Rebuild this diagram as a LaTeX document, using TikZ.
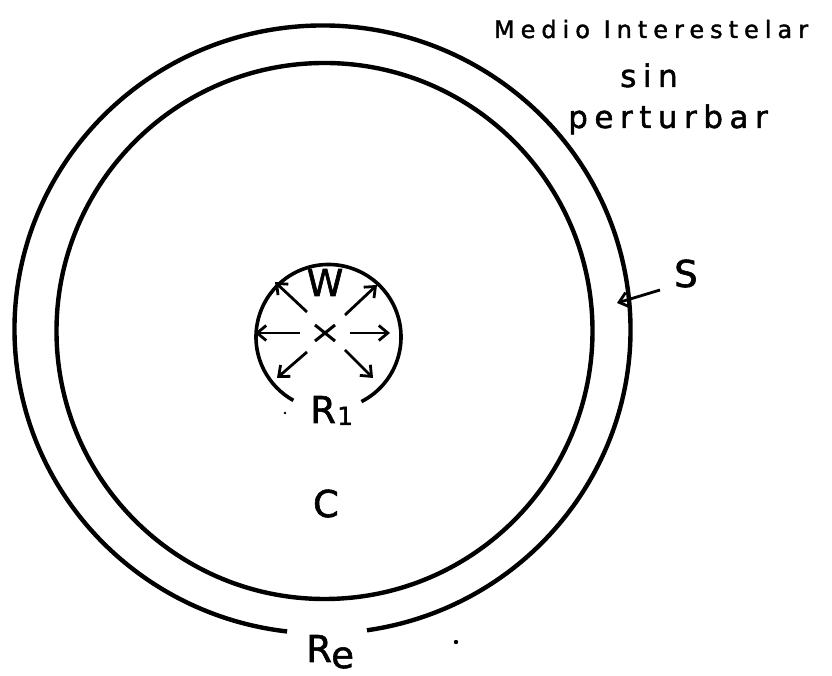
\documentclass[tikz,border=0pt]{standalone}
\usepackage{fontspec}
\usetikzlibrary{arrows.meta,calc}
\newfontfamily\lbl[FakeBold=1.6]{DejaVu Sans}
\newfontfamily\lblsp[LetterSpace=25,FakeBold=1.6]{DejaVu Sans}
\newfontfamily\lblspb[LetterSpace=21,FakeBold=1.6]{DejaVu Sans}
\tikzset{
  ring/.style={line width=4.4pt},
  smallring/.style={line width=3.6pt},
  ray/.style={line width=2.8pt, -{Straight Barb[length=9pt,width=15pt,line width=2.8pt]}},
  caplbl/.style={font=\lbl\fontsize{37}{40}\selectfont, inner sep=0pt, anchor=base west},
  sublbl/.style={font=\lbl\fontsize{25}{28}\selectfont, inner sep=0pt, anchor=base west},
  speck/.style={fill=black, draw=none},
}
\begin{document}
\begin{tikzpicture}[x=1pt,y=1pt]
\useasboundingbox (0,0) rectangle (832,676);
% outer circle with gap at bottom
\coordinate (oc) at (322.5,346.5);
\draw[ring] (oc) ++(278.3:308 and 304) arc[start angle=278.3, end angle=623.4, x radius=308, y radius=304];
% inner circle
\coordinate (ic) at (324.5,345);
\draw[ring] (ic) circle[radius=268];
% small circle with gap
\coordinate (sc) at (328.5,339);
\draw[smallring] (sc) ++(297:72.5) arc[start angle=297, end angle=601, radius=72.5];
% cross
\coordinate (x) at (325,343);
\draw[line width=3pt] ($(x)+(-10,8)$) -- ($(x)+(10,-8)$);
\draw[line width=3pt] ($(x)+(-10,-8)$) -- ($(x)+(10,8)$);
% rays
\coordinate (ul0) at (307,364); \coordinate (ul1) at (275,394);
\coordinate (ur0) at (345,361); \coordinate (ur1) at (377,391);
\coordinate (l0) at (300,343);  \coordinate (l1) at (255,343);
\coordinate (r0) at (350,343);  \coordinate (r1) at (390,343);
\coordinate (ll0) at (307,324); \coordinate (ll1) at (277,298);
\coordinate (lr0) at (345,326); \coordinate (lr1) at (373,298);
\draw[ray] (ul0) -- (ul1);
\draw[ray] (ur0) -- (ur1);
\draw[ray] (l0) -- (l1);
\draw[ray] (r0) -- (r1);
\draw[ray] (ll0) -- (ll1);
\draw[ray] (lr0) -- (lr1);
% labels
\node[caplbl, anchor=base] (W) at (325,380) {W};
\node[caplbl] (R1) at (310,253) {R};
\node[sublbl] (R1s) at (337,251) {1};
\node[caplbl, anchor=base] (C) at (326,159) {C};
\node[caplbl] (Re) at (306,14) {R};
\node[caplbl] (Res) at (331,8) {e};
\node[caplbl] (S) at (674,389) {S};
% S pointer
\coordinate (s0) at (660,386);
\coordinate (s1) at (617,373);
\draw[ray] (s0) -- (s1);
% upper right text
\node[inner sep=0pt, anchor=base, font=\lblsp\fontsize{24}{26}\selectfont] (mi) at (651,638) {Medio Interestelar};
\node[inner sep=0pt, anchor=base, font=\lblspb\fontsize{31}{33}\selectfont] (sin) at (649,589) {sin};
\node[inner sep=0pt, anchor=base, font=\lblspb\fontsize{31}{33}\selectfont] (pert) at (668,548) {perturbar};
% specks
\fill[speck] (456,34) circle[radius=2.2];
\fill[speck] (285,263) circle[radius=1.3];
\end{tikzpicture}
\end{document}
